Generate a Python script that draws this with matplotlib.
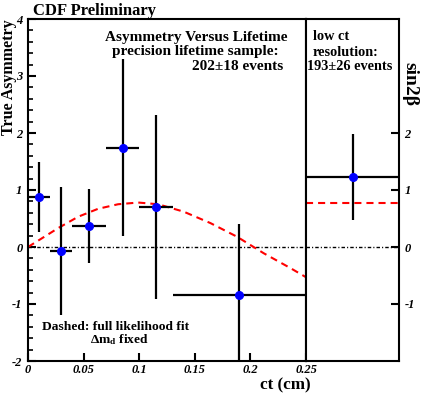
import matplotlib
matplotlib.use('Agg')
import matplotlib.pyplot as plt
from matplotlib.ticker import MultipleLocator, FixedLocator

plt.rcParams['font.family'] = ['Liberation Serif', 'DejaVu Serif']
plt.rcParams['font.weight'] = 'bold'
plt.rcParams['mathtext.fontset'] = 'custom'
plt.rcParams['mathtext.rm'] = 'Liberation Serif:bold'
plt.rcParams['mathtext.it'] = 'Liberation Serif:bold:italic'
plt.rcParams['mathtext.bf'] = 'Liberation Serif:bold'

# ---- data ----
ct = [0.01, 0.03, 0.055, 0.085, 0.115, 0.19]
ct_lo = [0.0, 0.02, 0.04, 0.07, 0.10, 0.13]
ct_hi = [0.02, 0.04, 0.07, 0.10, 0.13, 0.25]
asym = [0.88, -0.07, 0.37, 1.74, 0.70, -0.85]
asym_err = [0.61, 1.12, 0.65, 1.55, 1.61, 1.25]

lowres_asym = [1.23]
lowres_err = [0.75]
lowres_fit = 0.78

fit_ct = [0, 0.009, 0.027, 0.045, 0.063, 0.081, 0.099, 0.117, 0.140,
          0.164, 0.188, 0.212, 0.236, 0.25]
fit_asym = [0, 0.11, 0.33, 0.53, 0.67, 0.75, 0.78, 0.75, 0.62,
            0.42, 0.18, -0.11, -0.37, -0.53]

x_ticks = [0, 0.05, 0.1, 0.15, 0.2, 0.25]
x_ticklabels = ['0', '0.05', '0.1', '0.15', '0.2', '0.25']
y_ticks = [-2, -1, 0, 1, 2, 3, 4]
right_ticks = [-1, 0, 1, 2]

W, H = 421, 394
fig = plt.figure(figsize=(W / 100, H / 100), dpi=100)

ax = fig.add_axes([28 / W, 33 / H, 278 / W, 342 / H])
axr = fig.add_axes([306 / W, 33 / H, 93 / W, 342 / H])

lw_sp = 1.5
tick_font = dict(family='Liberation Serif', weight='bold', style='italic', size=9)
dash_dot = (0, (2.5, 1.5, 0.8, 1.5))
red_dash = (0, (3.4, 2.4))

# main panel
ax.set_xlim(0, 0.25)
ax.set_ylim(-2, 4)
for s in ax.spines.values():
    s.set_linewidth(lw_sp)
ax.xaxis.set_major_locator(FixedLocator(x_ticks))
ax.set_xticklabels(x_ticklabels, fontdict=tick_font)
ax.yaxis.set_major_locator(FixedLocator(y_ticks))
ax.set_yticklabels([str(v) for v in y_ticks], fontdict=tick_font)
ax.yaxis.set_minor_locator(MultipleLocator(0.2))
ax.tick_params(axis='both', which='major', direction='in', length=6, width=1.5, pad=4)
ax.tick_params(axis='x', which='major', pad=2.5)
ax.tick_params(axis='y', which='minor', direction='in', length=3.5, width=1.2)
ax.tick_params(top=False, right=False)

ax.plot([0, 0.25], [0, 0], color='black', lw=1, linestyle=dash_dot, zorder=1)
ax.plot(fit_ct, fit_asym, color='red', lw=1.5, linestyle=red_dash, zorder=2)
xerr = [[c - l for c, l in zip(ct, ct_lo)], [h - c for c, h in zip(ct, ct_hi)]]
ax.errorbar(ct, asym, xerr=xerr, yerr=asym_err, fmt='o', color='black',
            ecolor='black', elinewidth=1.6, capsize=0, markersize=5.5,
            markerfacecolor='blue', markeredgecolor='blue', zorder=3)

# right panel
axr.set_xlim(0, 1)
axr.set_ylim(-2, 4)
for s in axr.spines.values():
    s.set_linewidth(lw_sp)
axr.set_xticks([])
axr.yaxis.set_major_locator(FixedLocator(right_ticks))
axr.set_yticklabels([str(v) for v in right_ticks], fontdict=tick_font)
axr.yaxis.tick_right()
axr.tick_params(axis='y', which='major', direction='in', length=6, width=1.5, pad=4,
                left=False, right=True)
axr.plot([0, 1], [0, 0], color='black', lw=1, linestyle=dash_dot, zorder=1)
axr.plot([0, 1], [lowres_fit, lowres_fit], color='red', lw=1.5,
         linestyle=red_dash, zorder=2)
axr.errorbar([0.5], lowres_asym, xerr=[[0.5], [0.5]], yerr=lowres_err, fmt='o',
             ecolor='black', elinewidth=1.6, capsize=0, markersize=5.5,
             markerfacecolor='blue', markeredgecolor='blue', zorder=3)

# texts
def ftxt(x, y, s, **kw):
    fig.text(x / W, 1 - y / H, s, fontweight='bold', **kw)

ftxt(33, 11, 'CDF Preliminary', fontsize=12, ha='left', va='center')
ftxt(9, 19, 'True Asymmetry', fontsize=11.5, rotation=90, ha='center', va='top')
ftxt(410, 62, 'sin2β', fontsize=14, rotation=270, ha='center', va='top')
ftxt(196, 37, 'Asymmetry Versus Lifetime', fontsize=11, ha='center', va='center')
ftxt(195, 52, 'precision lifetime sample:', fontsize=11, ha='center', va='center')
ftxt(283, 67, '202±18 events', fontsize=11, ha='right', va='center')
ftxt(313, 37, 'low ct', fontsize=10.3, ha='left', va='center')
ftxt(313, 52, 'resolution:', fontsize=10.3, ha='left', va='center')
ftxt(307, 67, '193±26 events', fontsize=10.3, ha='left', va='center')
ftxt(116, 327, 'Dashed: full likelihood fit', fontsize=9.7, ha='center', va='center')
ftxt(120, 340, r'Δm$_{\mathrm{d}}$ fixed', fontsize=9.7, ha='center', va='center')
ftxt(285, 389, 'ct (cm)', fontsize=12.3, ha='center', va='baseline')

fig.savefig('out.png', dpi=100)
